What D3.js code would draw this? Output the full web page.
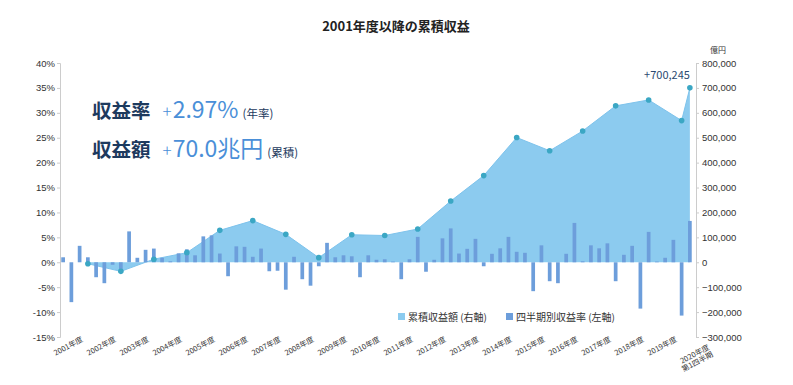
<!DOCTYPE html>
<html>
<head>
<meta charset="utf-8">
<script src="https://cdn.jsdelivr.net/npm/d3@7"></script>
<style>
  body { margin: 0; background: #fff; }
  svg { font-family: "Noto Sans CJK JP", "Noto Sans", sans-serif; }
</style>
</head>
<body>
<div id="chart"></div>
<script>
// fiscal years shown on the x axis
const years = [2001, 2002, 2003, 2004, 2005, 2006, 2007, 2008, 2009, 2010,
  2011, 2012, 2013, 2014, 2015, 2016, 2017, 2018, 2019]

// quarterly return (%), FY2001 Q1 .. FY2020 Q1
const quarterlyReturn = [
  1.0, -8.0, 3.3, 1.0,
  -3.0, -4.2, -0.5, -1.6,
  6.2, 0.9, 2.5, 2.75,
  0.9, 0.2, 1.8, 2.6,
  1.4, 5.2, 5.4, 1.75,
  -2.8, 3.2, 3.1, 1.1,
  2.75, -1.8, -1.7, -5.5,
  1.1, -3.4, -4.7, -0.8,
  3.9, 1.0, 1.4, 1.2,
  -3.0, 1.4, 0.5, 0.6,
  0.15, -3.4, 0.6, 5.1,
  -1.9, 0.5, 4.8, 6.8,
  1.75, 2.7, 4.7, -0.8,
  1.7, 2.8, 5.1, 2.1,
  1.9, -5.8, 3.4, -3.8,
  -4.2, 1.7, 7.9, 0.2,
  3.4, 2.8, 3.8, -3.8,
  1.5, 3.3, -9.3, 6.1,
  0.15, 0.9, 4.5, -10.7,
  8.3
]

// cumulative return at fiscal year end (億円), plus FY2020 Q1
const cumulative = [
  -5874, -36482, 12434, 38561, 128180, 167241, 112063, 18582, 110432, 107433,
  133525, 245747, 347954, 500876, 447778, 527141, 627951, 651746, 568817,
  700245
]

const leftTicks = [-15, -10, -5, 0, 5, 10, 15, 20, 25, 30, 35, 40]
const rightTicks = [-300000, -200000, -100000, 0, 100000, 200000, 300000, 400000, 500000, 600000, 700000, 800000]

const quarters = []
years.forEach(y => { for (let q = 1; q <= 4; q++) quarters.push(y + 'Q' + q) })
quarters.push('2020Q1')

const cumKeys = years.map(y => y + 'Q4').concat(['2020Q1'])
const cumData = cumKeys.map((k, i) => ({ key: k, value: cumulative[i] }))

const W = 793, H = 385
const plot = { left: 60, right: 696, top: 63, bottom: 337 }

const svg = d3.select('#chart').append('svg')
  .attr('width', W)
  .attr('height', H)

// scales
const x = d3.scaleBand()
  .domain(quarters)
  .range([59, 694])
  .paddingInner(0.55)
  .paddingOuter(0.275)
const xc = k => x(k) + x.bandwidth() / 2

const yL = d3.scaleLinear().domain([-15, 40]).range([plot.bottom, plot.top])
const yR = d3.scaleLinear().domain([-300000, 800000]).range([plot.bottom, plot.top])

// title
svg.append('text')
  .attr('x', 396)
  .attr('y', 31)
  .attr('text-anchor', 'middle')
  .attr('font-size', '13px')
  .attr('font-weight', 'bold')
  .attr('fill', '#222')
  .text('2001年度以降の累積収益')

// axes
const leftAxis = d3.axisLeft(yL).tickValues(leftTicks).tickFormat(d => d + '%').tickSize(3)
const gl = svg.append('g').attr('transform', `translate(${plot.left},0)`).call(leftAxis)
gl.select('.domain').attr('stroke', '#ccc')
gl.selectAll('.tick line').attr('stroke', '#ccc')
gl.selectAll('text').attr('font-size', '9.5px').attr('fill', '#333').attr('x', -5)

const rightAxis = d3.axisRight(yR).tickValues(rightTicks).tickFormat(d3.format(',')).tickSize(3)
const gr = svg.append('g').attr('transform', `translate(${plot.right},0)`).call(rightAxis)
gr.select('.domain').attr('stroke', '#ccc')
gr.selectAll('.tick line').attr('stroke', '#ccc')
gr.selectAll('text').attr('font-size', '9.5px').attr('fill', '#333').attr('x', 6)

svg.append('text')
  .attr('x', 718)
  .attr('y', 53)
  .attr('text-anchor', 'middle')
  .attr('font-size', '8px')
  .attr('fill', '#333')
  .text('億円')

// cumulative area
const area = d3.area()
  .x(d => xc(d.key))
  .y0(yR(0))
  .y1(d => yR(d.value))
svg.append('path')
  .datum(cumData)
  .attr('d', area)
  .attr('fill', '#8ccbef')

svg.append('path')
  .datum(cumData)
  .attr('d', d3.line().x(d => xc(d.key)).y(d => yR(d.value)))
  .attr('fill', 'none')
  .attr('stroke', '#7ec3ec')
  .attr('stroke-width', 1)

// quarterly bars
svg.selectAll('rect.bar')
  .data(quarterlyReturn)
  .enter()
  .append('rect')
  .attr('class', 'bar')
  .attr('x', (d, i) => x(quarters[i]))
  .attr('y', d => yL(Math.max(0, d)))
  .attr('width', x.bandwidth())
  .attr('height', d => Math.abs(yL(d) - yL(0)))
  .attr('fill', '#6d9edb')

// markers
svg.selectAll('circle.pt')
  .data(cumData)
  .enter()
  .append('circle')
  .attr('class', 'pt')
  .attr('cx', d => xc(d.key))
  .attr('cy', d => yR(d.value))
  .attr('r', 2.8)
  .attr('fill', '#3ba7c4')

// final value label
const last = cumData[cumData.length - 1]
svg.append('text')
  .attr('x', xc(last.key))
  .attr('y', yR(last.value) - 9)
  .attr('text-anchor', 'end')
  .attr('font-size', '11px')
  .attr('fill', '#2b4a70')
  .text('+' + d3.format(',')(last.value))

// headline figures
const head = svg.append('g')
const rows = [
  { label: '収益率', value: '2.97%', note: '(年率)', y: 118 },
  { label: '収益額', value: '70.0兆円', note: '(累積)', y: 157 }
]
rows.forEach(r => {
  const t = head.append('text').attr('x', 92).attr('y', r.y)
  t.append('tspan')
    .attr('font-size', '19.5px')
    .attr('font-weight', 'bold')
    .attr('fill', '#1d3a5e')
    .text(r.label)
  t.append('tspan')
    .attr('dx', 12)
    .attr('font-size', '17px')
    .attr('font-weight', 300)
    .attr('fill', '#4a8fd8')
    .text('+')
  t.append('tspan')
    .attr('dx', 1)
    .attr('font-size', '23px')
    .attr('font-weight', 400)
    .attr('fill', '#4a8fd8')
    .text(r.value)
  t.append('tspan')
    .attr('dx', 4)
    .attr('font-size', '11.5px')
    .attr('fill', '#1d3a5e')
    .text(r.note)
})

// x labels
const xl = svg.append('g')
years.forEach(y => {
  const cx = (xc(y + 'Q2') + xc(y + 'Q3')) / 2 + 8
  xl.append('text')
    .attr('transform', `translate(${cx},341) rotate(-28)`)
    .attr('text-anchor', 'end')
    .attr('font-size', '7.5px')
    .attr('fill', '#333')
    .text(y + '年度')
})
const lastLbl = xl.append('text')
  .attr('transform', `translate(${xc('2020Q1') + 20},349) rotate(-28)`)
  .attr('text-anchor', 'end')
  .attr('font-size', '7.5px')
  .attr('fill', '#333')
lastLbl.append('tspan').attr('x', 0).attr('dy', 0).text('2020年度')
lastLbl.append('tspan').attr('x', 0).attr('dy', 8).text('第1四半期')

// legend
const legend = [
  { name: '累積収益額 (右軸)', color: '#8ccbef', x: 398 },
  { name: '四半期別収益率 (左軸)', color: '#6d9edb', x: 506 }
]
legend.forEach(l => {
  svg.append('rect')
    .attr('x', l.x)
    .attr('y', 313)
    .attr('width', 7)
    .attr('height', 7)
    .attr('fill', l.color)
  svg.append('text')
    .attr('x', l.x + 10)
    .attr('y', 320.5)
    .attr('font-size', '10px')
    .attr('fill', '#333')
    .text(l.name)
})
</script>
</body>
</html>
